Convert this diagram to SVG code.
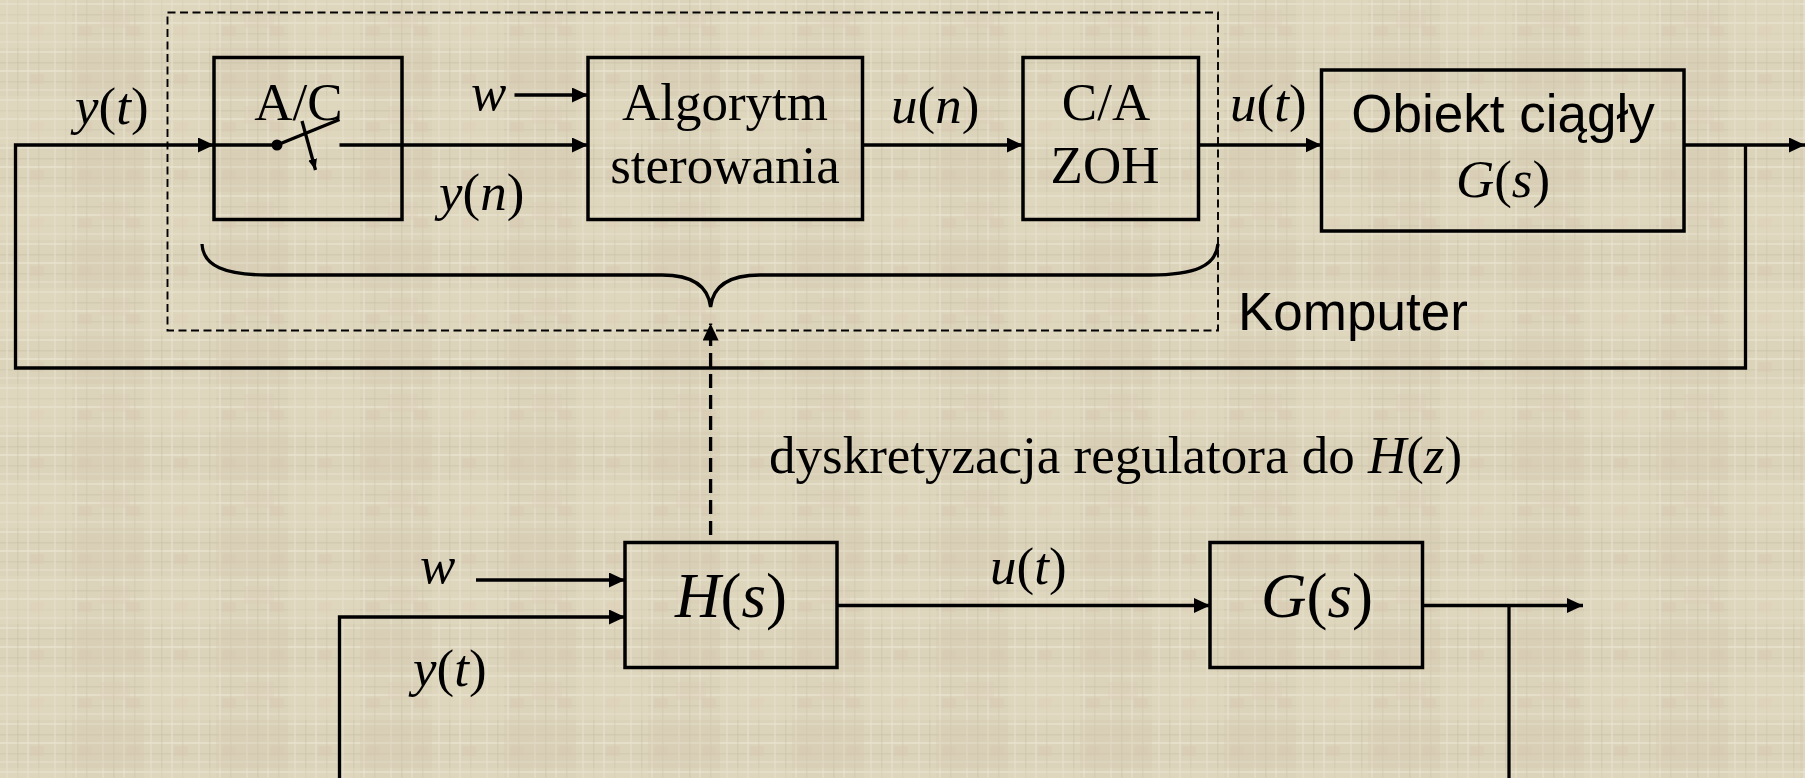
<svg xmlns="http://www.w3.org/2000/svg" width="1805" height="778" viewBox="0 0 1805 778">
  <defs>
    <style>
      .box { fill: none; stroke: #000; stroke-width: 3.5; }
      .wire { fill: none; stroke: #000; stroke-width: 3.3; }
      .dash-box { fill: none; stroke: #000; stroke-width: 1.9; stroke-dasharray: 8 4.5; }
      .dash-wire { fill: none; stroke: #000; stroke-width: 3.3; stroke-dasharray: 14 7; }
      .serif { font-family: "Liberation Serif", "Times New Roman", serif; font-size: 53px; fill: #000; }
      .sans { font-family: "Liberation Sans", Arial, sans-serif; font-size: 53px; fill: #000; }
      .big { font-size: 63px; }
      .i { font-style: italic; }
    </style>
    <marker id="head" viewBox="0 0 16 15" refX="16" refY="7.5" markerWidth="16" markerHeight="15" markerUnits="userSpaceOnUse" orient="auto">
      <path d="M0,0 L16,7.5 L0,15 z" fill="#000"/>
    </marker>
    <marker id="head-small" viewBox="0 0 11 9" refX="11" refY="4.5" markerWidth="11" markerHeight="9" markerUnits="userSpaceOnUse" orient="auto">
      <path d="M0,0 L11,4.5 L0,9 z" fill="#000"/>
    </marker>
    <marker id="head-dash" viewBox="0 0 17 16" refX="17" refY="8" markerWidth="17" markerHeight="16" markerUnits="userSpaceOnUse" orient="auto">
      <path d="M0,0 L17,8 L0,16 z" fill="#000"/>
    </marker>
    <!-- woven canvas backdrop -->
    <pattern id="canvas" width="48" height="48" patternUnits="userSpaceOnUse">
      <rect width="48" height="48" fill="#dbd3ba"/>
      <rect x="0" y="3" width="48" height="2" fill="#e9e3d0" opacity="0.7"/>
      <rect x="0" y="14" width="48" height="1.5" fill="#c9bfa4" opacity="0.45"/>
      <rect x="0" y="22" width="48" height="2" fill="#ebe6d4" opacity="0.6"/>
      <rect x="0" y="33" width="48" height="1.5" fill="#cdc3a9" opacity="0.45"/>
      <rect x="0" y="41" width="48" height="2" fill="#e6dfcb" opacity="0.6"/>
      <rect x="6" y="0" width="2" height="48" fill="#e8e2cf" opacity="0.5"/>
      <rect x="17" y="0" width="1.5" height="48" fill="#c8bea3" opacity="0.4"/>
      <rect x="27" y="0" width="2" height="48" fill="#eae4d2" opacity="0.5"/>
      <rect x="38" y="0" width="1.5" height="48" fill="#ccc2a8" opacity="0.4"/>
      <rect x="30" y="26" width="14" height="10" fill="#d9c6b0" opacity="0.35"/>
    </pattern>
    <pattern id="canvas-coarse" width="144" height="96" patternUnits="userSpaceOnUse">
      <rect x="0" y="0" width="72" height="48" fill="#e4dcc5" opacity="0.35"/>
      <rect x="72" y="48" width="72" height="48" fill="#d2c8ad" opacity="0.3"/>
      <rect x="100" y="10" width="30" height="18" fill="#dcc7b3" opacity="0.25"/>
    </pattern>
  </defs>

  <rect width="1805" height="778" fill="url(#canvas)"/>
  <rect width="1805" height="778" fill="url(#canvas-coarse)"/>

  <!-- computer boundary with brace -->
  <g id="computer">
    <rect class="dash-box" x="167.5" y="12.5" width="1050.5" height="318"/>
    <path class="wire" d="M202,244 C203,266 225,275 268,275 H662 C690,275 708,285 710.6,307 C713,285 731,275 760,275 H1150 C1195,275 1216,266 1218,244"/>
    <text class="sans" x="1238" y="330">Komputer</text>
  </g>

  <!-- A/C converter with sampling switch -->
  <g id="ac">
    <rect class="box" x="214" y="57.5" width="188" height="162"/>
    <text class="serif" x="298.5" y="120" text-anchor="middle">A/C</text>
    <line class="wire" x1="214" y1="145" x2="277" y2="145"/>
    <circle cx="277" cy="145" r="5.5" fill="#000"/>
    <line class="wire" x1="277" y1="145" x2="339.5" y2="119.5"/>
    <line class="wire" stroke-width="2.8" x1="302" y1="121" x2="315.5" y2="170" marker-end="url(#head-small)"/>
  </g>

  <g id="algorithm">
    <rect class="box" x="588" y="57.5" width="274.5" height="162"/>
    <text class="serif" x="725" y="120" text-anchor="middle">Algorytm</text>
    <text class="serif" x="725" y="183" text-anchor="middle">sterowania</text>
  </g>

  <g id="ca-zoh">
    <rect class="box" x="1023" y="57.5" width="175.5" height="162"/>
    <text class="serif" x="1106" y="120" text-anchor="middle">C/A</text>
    <text class="serif" x="1105" y="183" text-anchor="middle">ZOH</text>
  </g>

  <g id="object">
    <rect class="box" x="1321.5" y="70" width="362.5" height="161"/>
    <text class="sans" x="1503" y="131.5" text-anchor="middle">Obiekt ciągły</text>
    <text class="serif" x="1503" y="197" text-anchor="middle"><tspan class="i">G</tspan>(<tspan class="i">s</tspan>)</text>
  </g>

  <g id="hs">
    <rect class="box" x="625" y="542.5" width="212" height="125"/>
    <text class="serif big" x="731" y="617" text-anchor="middle"><tspan class="i">H</tspan>(<tspan class="i">s</tspan>)</text>
  </g>

  <g id="gs">
    <rect class="box" x="1210" y="542.5" width="212.5" height="125"/>
    <text class="serif big" x="1317" y="617" text-anchor="middle"><tspan class="i">G</tspan>(<tspan class="i">s</tspan>)</text>
  </g>

  <!-- signal paths -->
  <g id="connectors">
    <path class="wire" d="M1745.5,145 V368 H15.5 V145 H214" marker-end="url(#head)"/>
    <line class="wire" x1="339.5" y1="145" x2="588" y2="145" marker-end="url(#head)"/>
    <line class="wire" x1="514.5" y1="95" x2="588" y2="95" marker-end="url(#head)"/>
    <line class="wire" x1="862.5" y1="145" x2="1023" y2="145" marker-end="url(#head)"/>
    <line class="wire" x1="1198.5" y1="145" x2="1321.5" y2="145" marker-end="url(#head)"/>
    <line class="wire" x1="1684" y1="145" x2="1805" y2="145" marker-end="url(#head)"/>

    <line class="dash-wire" x1="710.6" y1="535" x2="710.6" y2="323.5" marker-end="url(#head-dash)"/>

    <line class="wire" x1="476" y1="580" x2="625" y2="580" marker-end="url(#head)"/>
    <path class="wire" d="M339.5,778 V617 H625" marker-end="url(#head)"/>
    <line class="wire" x1="837" y1="605.5" x2="1210" y2="605.5" marker-end="url(#head)"/>
    <line class="wire" x1="1422.5" y1="605.5" x2="1583" y2="605.5" marker-end="url(#head)"/>
    <line class="wire" x1="1509" y1="605.5" x2="1509" y2="778"/>
  </g>

  <!-- signal labels -->
  <g id="labels">
    <text class="serif" x="75" y="124"><tspan class="i">y</tspan>(<tspan class="i">t</tspan>)</text>
    <text class="serif i" x="471" y="110">w</text>
    <text class="serif" x="439" y="210"><tspan class="i">y</tspan>(<tspan class="i">n</tspan>)</text>
    <text class="serif" x="891" y="123"><tspan class="i">u</tspan>(<tspan class="i">n</tspan>)</text>
    <text class="serif" x="1230" y="121"><tspan class="i">u</tspan>(<tspan class="i">t</tspan>)</text>
    <text class="serif" x="769" y="473">dyskretyzacja regulatora do <tspan class="i">H</tspan>(<tspan class="i">z</tspan>)</text>
    <text class="serif i" x="420" y="583">w</text>
    <text class="serif" x="413" y="686"><tspan class="i">y</tspan>(<tspan class="i">t</tspan>)</text>
    <text class="serif" x="990" y="584"><tspan class="i">u</tspan>(<tspan class="i">t</tspan>)</text>
  </g>
</svg>
